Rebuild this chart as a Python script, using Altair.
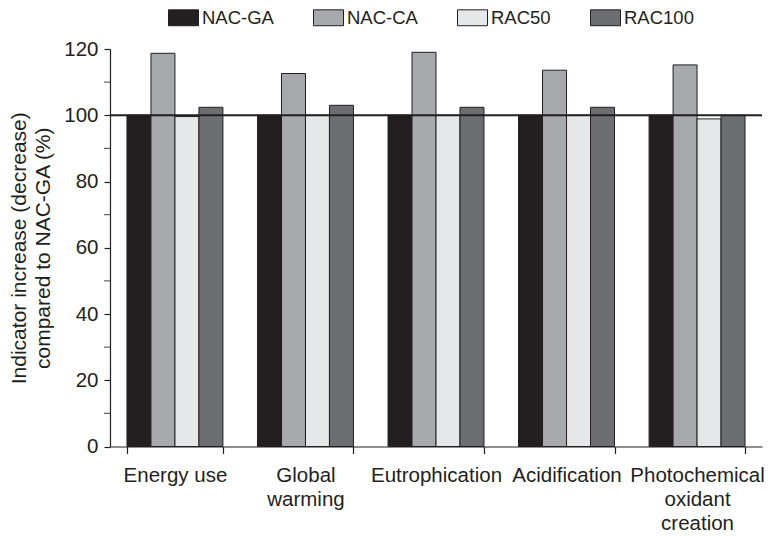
import altair as alt
import pandas as pd

# Impact categories and scenarios
categories = ["Energy use", "Global warming", "Eutrophication", "Acidification",
              "Photochemical oxidant creation"]
scenarios = ["NAC-GA", "NAC-CA", "RAC50", "RAC100"]
colors = ["#231f20", "#a7a9ac", "#e6e7e8", "#6d6e71"]

# Indicator values relative to NAC-GA (%), one list per scenario
nac_ga = [100, 100, 100, 100, 100]
nac_ca = [118.7, 112.6, 119.0, 113.6, 115.2]
rac50 = [99.6, 100, 100, 100, 98.9]
rac100 = [102.4, 103.0, 102.4, 102.4, 100]

rows = []
for s, vals in zip(scenarios, [nac_ga, nac_ca, rac50, rac100]):
    for c, v in zip(categories, vals):
        rows.append({"category": c, "scenario": s, "value": v})
df = pd.DataFrame(rows)

FONT = "Liberation Sans"
FS = 20.5
INK = "#231f20"

bars = alt.Chart(df).mark_bar(stroke=INK, strokeWidth=1).encode(
    x=alt.X("category:N", sort=categories, title=None,
            scale=alt.Scale(paddingInner=0.265, paddingOuter=0.13),
            axis=alt.Axis(labelAngle=0, labelFont=FONT, labelFontSize=FS,
                          labelColor=INK, labelPadding=12,
                          labelLineHeight=24, labelBaseline="top",
                          labelExpr="datum.label == 'Energy use' ? datum.label : split(datum.label, ' ')",
                          tickSize=7, tickColor=INK, tickBand="extent",
                          domainColor=INK, domainWidth=1.2, tickWidth=1.2)),
    xOffset=alt.XOffset("scenario:N", sort=scenarios),
    y=alt.Y("value:Q",
            scale=alt.Scale(domain=[0, 120], nice=False),
            axis=alt.Axis(values=list(range(0, 121, 20)), labelFont=FONT,
                          labelFontSize=FS, labelColor=INK, labelPadding=6,
                          tickSize=6, tickColor=INK, domainColor=INK,
                          domainWidth=1.2, tickWidth=1.2, grid=False,
                          title=["Indicator increase (decrease)", "compared to NAC-GA (%)"],
                          titleFont=FONT, titleFontSize=21, titleFontWeight="normal",
                          titleColor=INK, titleLineHeight=24, titlePadding=10)),
    color=alt.Color("scenario:N", sort=scenarios,
                    scale=alt.Scale(domain=scenarios, range=colors),
                    legend=alt.Legend(title=None, orient="none", direction="horizontal",
                                      legendX=58, legendY=-47,
                                      symbolType="M-1,-0.53H1V0.53H-1Z", symbolSize=900,
                                      symbolStrokeColor=INK, symbolStrokeWidth=1,
                                      symbolOpacity=1,
                                      labelFont=FONT, labelFontSize=18.5,
                                      labelColor=INK, labelOffset=3,
                                      columnPadding=37)),
)

# Minor ticks at the odd tens of the value axis
minor = alt.Chart(pd.DataFrame({"v": list(range(10, 120, 20))})).mark_tick(
    color=INK, thickness=1.2, size=6, orient="horizontal"
).encode(y="v:Q", x=alt.value(-3))

# Reference line at 100 %
ref = alt.Chart(pd.DataFrame({"v": [100]})).mark_rule(
    color=INK, strokeWidth=2.2
).encode(y="v:Q")

chart = alt.layer(bars, ref, minor).properties(
    width=652, height=397.5,
    autosize=alt.AutoSizeParams(type="none"),
    padding={"left": 110, "top": 49, "right": 15, "bottom": 93},
).configure_view(stroke=None)

chart.save("out.html", embed_options={"renderer": "svg", "actions": False})
